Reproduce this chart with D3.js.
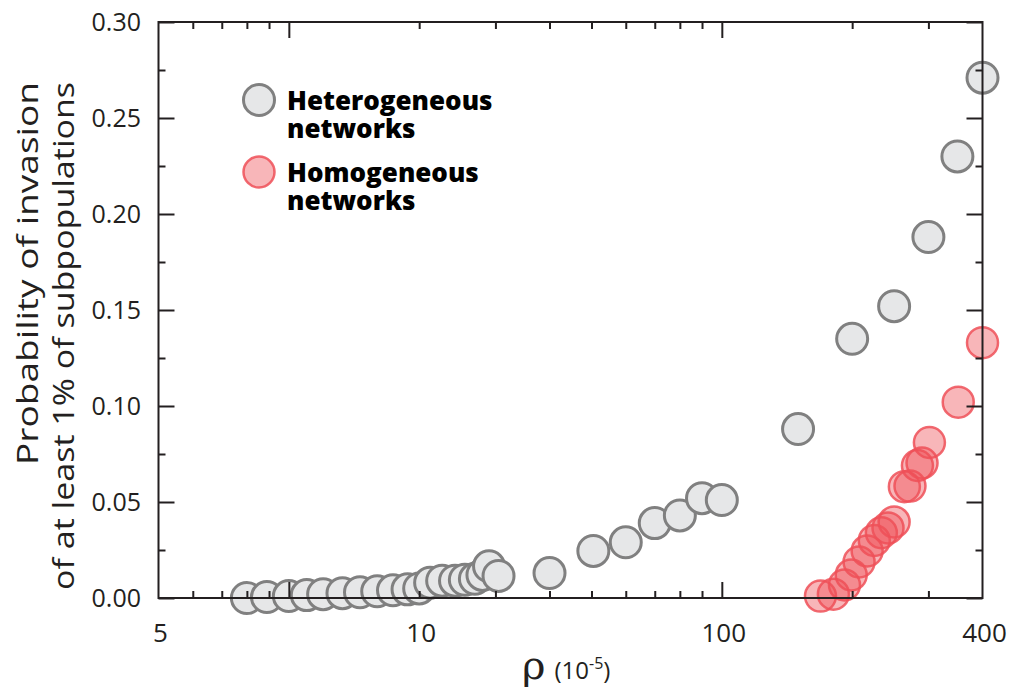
<!DOCTYPE html>
<html lang="en">
<head>
  <meta charset="UTF-8" />
  <title>Probability of invasion</title>
  <style>
    body { margin: 0; background: #fff; }
    text { font-family: "Open Sans", sans-serif; fill: #231f20; }
  </style>
</head>
<body>
  <div id="chart"></div>

  <script src="https://d3js.org/d3.v7.min.js"></script>
  <script>

    // heterogeneous networks (rho in 1e-5, probability)
    var hetX = [8, 8.9, 10, 11, 12, 13.3, 14.6, 16, 17.4, 18.8, 20, 21.2, 22.6, 24.2, 25.5, 26.9, 28, 29, 30.5,
      40, 50.5, 60, 70, 80, 90, 100, 150, 200, 250, 300, 350, 400]
    var hetY = [0.000, 0.0005, 0.001, 0.0015, 0.002, 0.0025, 0.003, 0.0035, 0.004, 0.0045, 0.005, 0.008, 0.009, 0.009, 0.0095, 0.010, 0.012, 0.0165, 0.0115,
      0.013, 0.0245, 0.029, 0.039, 0.043, 0.052, 0.051, 0.088, 0.135, 0.152, 0.188, 0.230, 0.271]

    // homogeneous networks
    var homX = [169, 181, 192, 199, 207.5, 216.6, 225, 233.6, 242, 250, 264, 272, 283, 290, 301.6, 351.6, 400]
    var homY = [0.001, 0.002, 0.0068, 0.012, 0.0188, 0.0245, 0.030, 0.034, 0.0365, 0.0396, 0.058, 0.0583, 0.069, 0.0703, 0.081, 0.102, 0.133]

    // axis ticks
    var xLabelVals = [5, 20, 100, 400]
    var xLabels = ["5", "10", "100", "400"]
    var xMajor = [10, 100]
    var xMinor = [6, 7, 8, 9, 20, 30, 40, 50, 60, 70, 80, 90, 200, 300]
    var yMajor = [0, 0.05, 0.10, 0.15, 0.20, 0.25, 0.30]
    var yMinor = [0.025, 0.075, 0.125, 0.175, 0.225, 0.275]

    var pLeft = 158.5, pRight = 982.5, pTop = 22, pBottom = 598

    var x = d3.scaleLog().domain([5, 400]).range([pLeft, pRight])
    var y = d3.scaleLinear().domain([0, 0.30]).range([pBottom, pTop])

    var svg = d3.select("#chart")
      .append("svg")
      .attr("width", 1018)
      .attr("height", 690)

    var het = hetX.map(function (v, i) { return { x: v, y: hetY[i] } })
    var hom = homX.map(function (v, i) { return { x: v, y: homY[i] } })

    var plotArea = svg.append("g")

    plotArea.selectAll(".het")
      .data(het)
      .enter().append("circle")
      .attr("class", "het")
      .attr("cx", function (d) { return x(d.x) })
      .attr("cy", function (d) { return y(d.y) })
      .attr("r", 15.5)
      .style("fill", "#e6e7e8")
      .style("stroke", "#808080")
      .style("stroke-width", 3)

    plotArea.selectAll(".hom")
      .data(hom)
      .enter().append("circle")
      .attr("class", "hom")
      .attr("cx", function (d) { return x(d.x) })
      .attr("cy", function (d) { return y(d.y) })
      .attr("r", 15.5)
      .style("fill", "rgba(238, 80, 88, 0.42)")
      .style("stroke", "rgba(238, 80, 88, 0.85)")
      .style("stroke-width", 2.5)

    // axes: ticks pointing inward on all four sides
    function tickAxis(axisFn, scale, vals, size, tr) {
      var g = svg.append("g")
        .attr("transform", tr)
        .call(axisFn(scale).tickValues(vals).tickSize(-size).tickFormat(""))
      g.select(".domain").remove()
      g.selectAll("line").style("stroke", "#231f20").style("stroke-width", 2)
      return g
    }
    tickAxis(d3.axisBottom, x, xMajor, 16, "translate(0," + pBottom + ")")
    tickAxis(d3.axisBottom, x, xMinor, 7, "translate(0," + pBottom + ")")
    tickAxis(d3.axisTop, x, xMajor, 16, "translate(0," + pTop + ")")
    tickAxis(d3.axisTop, x, xMinor, 7, "translate(0," + pTop + ")")
    tickAxis(d3.axisLeft, y, yMajor, 16, "translate(" + pLeft + ",0)")
    tickAxis(d3.axisLeft, y, yMinor, 7, "translate(" + pLeft + ",0)")
    tickAxis(d3.axisRight, y, yMajor, 16, "translate(" + pRight + ",0)")
    tickAxis(d3.axisRight, y, yMinor, 7, "translate(" + pRight + ",0)")

    svg.append("rect")
      .attr("x", pLeft).attr("y", pTop)
      .attr("width", pRight - pLeft).attr("height", pBottom - pTop)
      .style("fill", "none")
      .style("stroke", "#231f20")
      .style("stroke-width", 2)

    // tick labels
    svg.selectAll(".ylab")
      .data(yMajor)
      .enter().append("text")
      .attr("class", "ylab")
      .attr("x", 141)
      .attr("y", function (d) { return y(d) + 9 })
      .attr("text-anchor", "end")
      .style("font-size", "25px")
      .text(function (d) { return d.toFixed(2) })

    svg.selectAll(".xlab")
      .data(xLabelVals)
      .enter().append("text")
      .attr("class", "xlab")
      .attr("x", function (d) { return x(d) + 2 })
      .attr("y", 642)
      .attr("text-anchor", "middle")
      .style("font-size", "26px")
      .text(function (d, i) { return xLabels[i] })

    // axis titles
    var xTitle = svg.append("text")
      .attr("x", 522)
      .attr("y", 679)
    xTitle.append("tspan").style("font-size", "40px").style("font-family", "DejaVu Serif").text("ρ")
    xTitle.append("tspan").attr("dx", 9).style("font-size", "24px").text("(10")
    xTitle.append("tspan").attr("dy", -10).style("font-size", "16px").text("-5")
    xTitle.append("tspan").attr("dy", 10).style("font-size", "24px").text(")")

    svg.append("text")
      .attr("transform", "translate(38,82) rotate(-90)")
      .attr("text-anchor", "end")
      .attr("textLength", 383)
      .attr("lengthAdjust", "spacingAndGlyphs")
      .style("font-size", "29px")
      .text("Probability of invasion")
    svg.append("text")
      .attr("transform", "translate(74,82) rotate(-90)")
      .attr("text-anchor", "end")
      .attr("textLength", 508)
      .attr("lengthAdjust", "spacingAndGlyphs")
      .style("font-size", "29px")
      .text("of at least 1% of subpopulations")

    // legend
    var legend = svg.append("g")
    legend.append("circle")
      .attr("cx", 259).attr("cy", 100).attr("r", 15.5)
      .style("fill", "#e6e7e8").style("stroke", "#808080").style("stroke-width", 3)
    legend.append("circle")
      .attr("cx", 259).attr("cy", 172).attr("r", 15.5)
      .style("fill", "rgba(238, 80, 88, 0.42)").style("stroke", "rgba(238, 80, 88, 0.85)").style("stroke-width", 2.5)

    var legendText = [["Heterogeneous", "networks"], ["Homogeneous", "networks"]]
    legendText.forEach(function (lines, i) {
      lines.forEach(function (t, j) {
        legend.append("text")
          .attr("x", 287)
          .attr("y", 110 + i * 72 + j * 28)
          .style("font-size", "26px")
          .style("font-weight", 800)
          .style("fill", "#000")
          .text(t)
      })
    })

  </script>
</body>
</html>
